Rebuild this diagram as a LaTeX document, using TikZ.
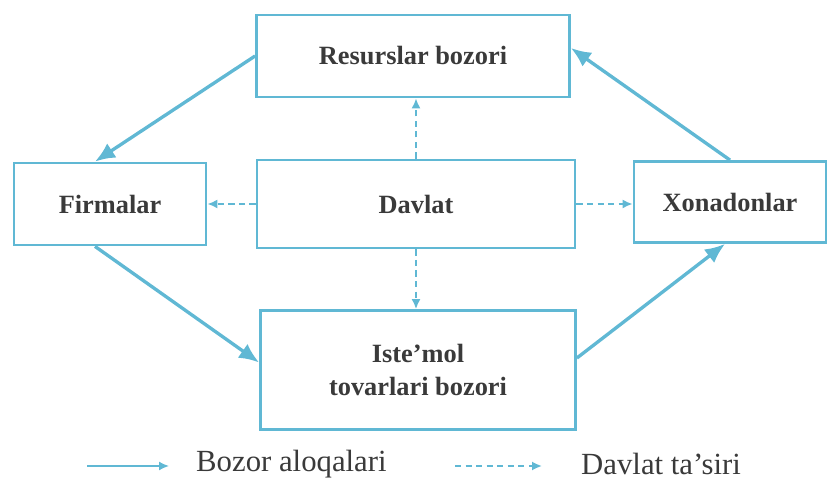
\documentclass[tikz,border=0pt]{standalone}
\usepackage{fontspec}
\setmainfont{Liberation Serif}
\usetikzlibrary{arrows.meta}
\definecolor{flowblue}{RGB}{96,184,212}
\definecolor{labelgray}{RGB}{58,58,58}

\begin{document}
\begin{tikzpicture}[
  every node/.style={text=labelgray},
  marketbox/.style={rectangle,draw=flowblue,line width=1.6pt,align=center,inner sep=4pt,
    font=\fontsize{15}{19}\selectfont\bfseries},
  legendtext/.style={anchor=west,font=\fontsize{17.5}{20}\selectfont},
  marketarrow/.style={-{Latex[length=4mm,width=3.4mm]},flowblue,line width=1.9pt},
  statearrow/.style={-{Latex[length=2mm,width=1.8mm]},flowblue,line width=1pt,dash pattern=on 3.5pt off 2.5pt},
]
\useasboundingbox (0,0) rectangle (16.58,9.62);

% ---------- Boxes ----------
\node[marketbox,minimum width=6.26cm,minimum height=1.64cm] (RES) at (8.26,8.50) {Resurslar bozori};
\node[marketbox,minimum width=3.84cm,minimum height=1.64cm] (FIRM) at (2.20,5.54) {Firmalar};
\node[marketbox,minimum width=6.36cm,minimum height=1.76cm] (DAV) at (8.32,5.54) {Davlat};
\node[marketbox,minimum width=3.84cm,minimum height=1.62cm] (XON) at (14.60,5.58) {Xonadonlar};
\node[marketbox,minimum width=6.30cm,minimum height=2.38cm] (IST) at (8.36,2.22) {Iste’mol\\tovarlari bozori};

% ---------- Market flows ----------
\draw[marketarrow] (RES.west) -- ([xshift=-0.3cm]FIRM.north);
\draw[marketarrow] ([xshift=-0.3cm]FIRM.south) -- ([yshift=0.15cm]IST.west);
\draw[marketarrow] ([yshift=0.24cm]IST.east) -- ([xshift=-0.1cm]XON.south);
\draw[marketarrow] (XON.north) -- ([yshift=0.16cm]RES.east);

% ---------- State influence ----------
\draw[statearrow] (DAV.north) -- (DAV.north |- RES.south);
\draw[statearrow] (DAV.south) -- (DAV.south |- IST.north);
\draw[statearrow] (DAV.west) -- (DAV.west -| FIRM.east);
\draw[statearrow] (DAV.east) -- (DAV.east -| XON.west);

% ---------- Legend ----------
\coordinate (LA) at (1.74,0.30);
\coordinate (LB) at (3.38,0.30);
\draw[-{Latex[length=2mm,width=1.8mm]},flowblue,line width=0.9pt] (LA) -- (LB);
\node[legendtext] (LMARKET) at (3.80,0.34) {Bozor aloqalari};
\coordinate (LC) at (9.10,0.30);
\coordinate (LD) at (10.84,0.30);
\draw[statearrow] (LC) -- (LD);
\node[legendtext] (LSTATE) at (11.50,0.34) {Davlat ta’siri};

\end{tikzpicture}
\end{document}
